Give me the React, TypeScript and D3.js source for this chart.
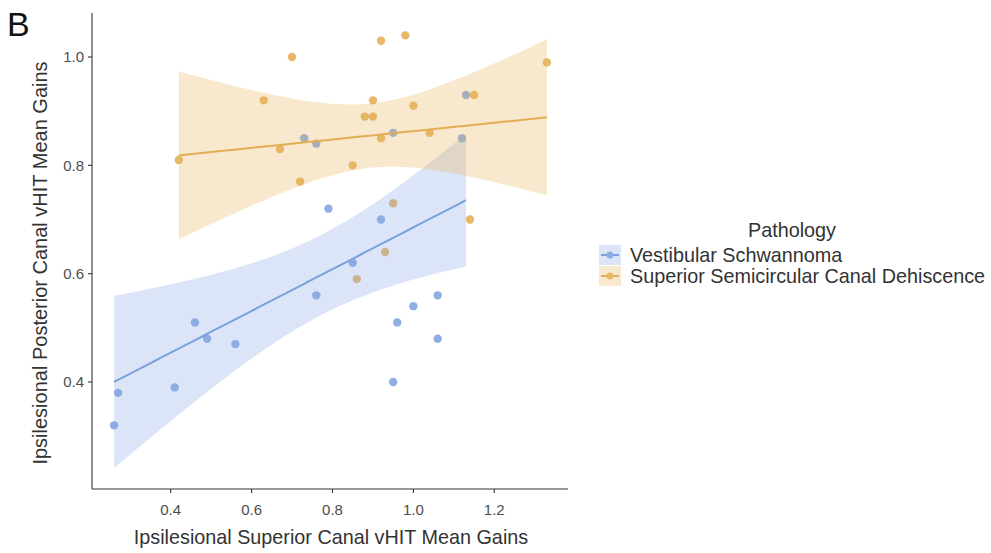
import React from "react";
import * as d3 from "d3";

const groups = ["Vestibular Schwannoma", "Superior Semicircular Canal Dehiscence"];

const vsX = [0.26, 0.27, 0.41, 0.46, 0.49, 0.56, 0.73, 0.76, 0.76, 0.79, 0.85, 0.92, 0.95, 0.95, 0.96, 1.0, 1.06, 1.06, 1.12, 1.13];
const vsY = [0.32, 0.38, 0.39, 0.51, 0.48, 0.47, 0.85, 0.84, 0.56, 0.72, 0.62, 0.7, 0.4, 0.86, 0.51, 0.54, 0.56, 0.48, 0.85, 0.93];

const sscdX = [0.42, 0.63, 0.67, 0.7, 0.72, 0.85, 0.86, 0.88, 0.9, 0.9, 0.92, 0.92, 0.93, 0.95, 0.98, 1.0, 1.04, 1.14, 1.15, 1.33];
const sscdY = [0.81, 0.92, 0.83, 1.0, 0.77, 0.8, 0.59, 0.89, 0.89, 0.92, 1.03, 0.85, 0.64, 0.73, 1.04, 0.91, 0.86, 0.7, 0.93, 0.99];

const xTicks = [0.4, 0.6, 0.8, 1.0, 1.2];
const yTicks = [0.4, 0.6, 0.8, 1.0];

const pointColors = ["#8eaee4", "#e6b868"];
const lineColors = ["#7aa0e0", "#e2ad55"];
const bandColors = ["#8aaae6", "#e8b35a"];

// Student t quantile 0.975 for df = 18
const T975 = 2.101;

function fitLm(xs: number[], ys: number[]) {
  const n = xs.length;
  const mx = d3.mean(xs)!;
  const my = d3.mean(ys)!;
  let sxx = 0, sxy = 0;
  for (let i = 0; i < n; i++) {
    sxx += (xs[i] - mx) ** 2;
    sxy += (xs[i] - mx) * (ys[i] - my);
  }
  const b = sxy / sxx;
  const a = my - b * mx;
  let sse = 0;
  for (let i = 0; i < n; i++) sse += (ys[i] - a - b * xs[i]) ** 2;
  const s = Math.sqrt(sse / (n - 2));
  const [x0, x1] = d3.extent(xs) as [number, number];
  const pts = d3.range(0, 81).map((k) => {
    const x = x0 + ((x1 - x0) * k) / 80;
    const yhat = a + b * x;
    const se = s * Math.sqrt(1 / n + (x - mx) ** 2 / sxx);
    return { x, y: yhat, lo: yhat - T975 * se, hi: yhat + T975 * se };
  });
  return pts;
}

export default function App() {
  const W = 991, H = 553;
  const x = d3.scaleLinear().domain([0.4, 1.2]).range([170.7, 494.3]);
  const y = d3.scaleLinear().domain([0.4, 1.0]).range([382, 57]);
  const axL = 92, axR = 568, axT = 13, axB = 489;

  const data = [
    { xs: vsX, ys: vsY },
    { xs: sscdX, ys: sscdY },
  ];
  const fits = data.map((g) => fitLm(g.xs, g.ys));

  const area = d3
    .area<{ x: number; lo: number; hi: number }>()
    .x((d) => x(d.x))
    .y0((d) => y(d.lo))
    .y1((d) => y(d.hi));
  const line = d3
    .line<{ x: number; y: number }>()
    .x((d) => x(d.x))
    .y((d) => y(d.y));

  const font = "'Liberation Sans', Arial, Helvetica, sans-serif";
  const legX = 599;
  const legY = [245, 266];

  return (
    <svg width={W} height={H} style={{ position: "absolute", left: 0, top: 0 }} fontFamily={font}>
      <rect width={W} height={H} fill="#fff" />
      <text x={7} y={36} fontSize={34} fill="#111">B</text>

      {/* points */}
      {data.map((g, gi) =>
        g.xs.map((xv, i) => (
          <circle key={`p${gi}-${i}`} cx={x(xv)} cy={y(g.ys[i])} r={4.2} fill={pointColors[gi]} />
        ))
      )}

      {/* ribbons */}
      {fits.map((f, gi) => (
        <path key={`a${gi}`} d={area(f) || ""} fill={bandColors[gi]} fillOpacity={0.3} />
      ))}
      {fits.map((f, gi) => (
        <path key={`l${gi}`} d={line(f) || ""} fill="none" stroke={lineColors[gi]} strokeWidth={2} />
      ))}

      {/* axes */}
      <line x1={axL} x2={axL} y1={axT} y2={axB} stroke="#333" strokeWidth={1.1} />
      <line x1={axL} x2={axR} y1={axB} y2={axB} stroke="#333" strokeWidth={1.1} />
      {yTicks.map((t) => (
        <g key={`yt${t}`}>
          <line x1={axL - 4} x2={axL} y1={y(t)} y2={y(t)} stroke="#333" strokeWidth={1.1} />
          <text x={axL - 8} y={y(t)} dy="0.35em" textAnchor="end" fontSize={15} fill="#4d4d4d">
            {t.toFixed(1)}
          </text>
        </g>
      ))}
      {xTicks.map((t) => (
        <g key={`xt${t}`}>
          <line x1={x(t)} x2={x(t)} y1={axB} y2={axB + 4} stroke="#333" strokeWidth={1.1} />
          <text x={x(t)} y={510} dy="0.35em" textAnchor="middle" fontSize={15} fill="#4d4d4d">
            {t.toFixed(1)}
          </text>
        </g>
      ))}
      <text x={331} y={537} dy="0.35em" textAnchor="middle" fontSize={19.8} fill="#333">
        Ipsilesional Superior Canal vHIT Mean Gains
      </text>
      <text
        transform={`translate(40,${(axT + axB) / 2 + 12}) rotate(-90)`}
        textAnchor="middle"
        dy="0.35em"
        fontSize={20}
        fill="#333"
      >
        Ipsilesional Posterior Canal vHIT Mean Gains
      </text>

      {/* legend */}
      <text x={748} y={230} dy="0.35em" fontSize={19.8} fill="#333">
        Pathology
      </text>
      {groups.map((name, gi) => (
        <g key={`lg${gi}`}>
          <rect x={legX} y={legY[gi]} width={22} height={20} fill={bandColors[gi]} fillOpacity={0.3} />
          <line x1={legX + 2} x2={legX + 20} y1={legY[gi] + 10} y2={legY[gi] + 10} stroke={lineColors[gi]} strokeWidth={2} />
          <circle cx={legX + 11} cy={legY[gi] + 10} r={3.5} fill={pointColors[gi]} />
          <text x={630} y={legY[gi] + 10} dy="0.35em" fontSize={19.8} fill="#333">
            {name}
          </text>
        </g>
      ))}
    </svg>
  );
}
